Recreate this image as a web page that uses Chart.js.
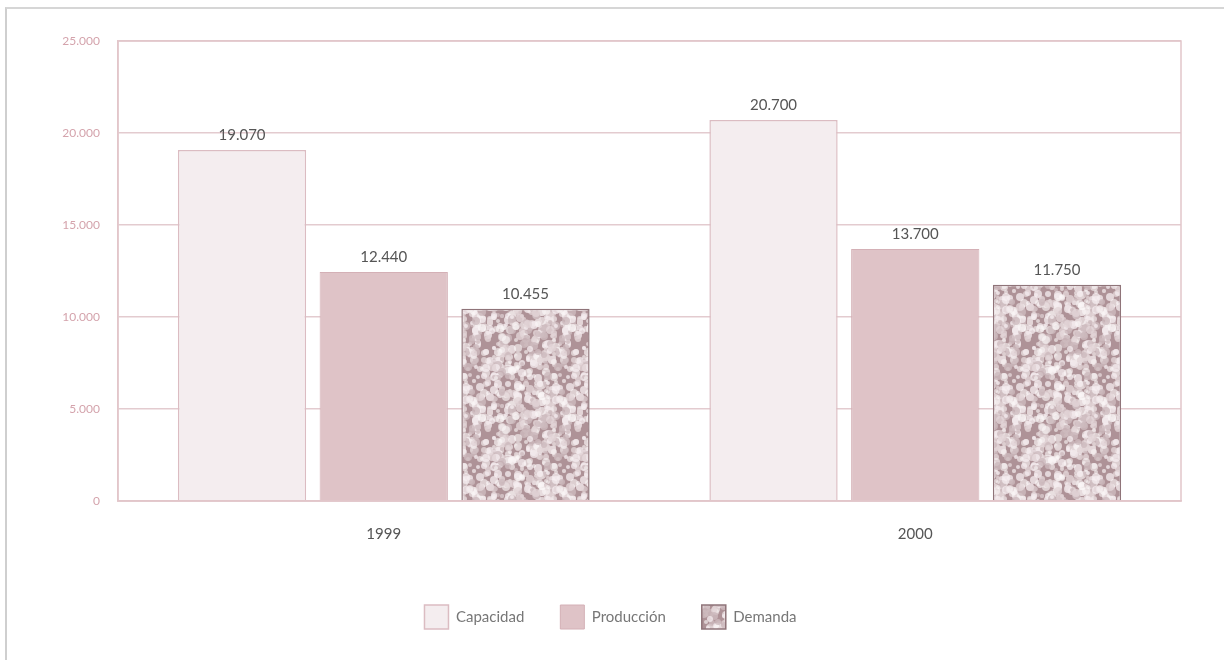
<!DOCTYPE html>
<html>
<head>
<meta charset="utf-8">
<script src="https://cdn.jsdelivr.net/npm/chart.js@4.4.0/dist/chart.umd.min.js"></script>
<style>
  body { margin: 0; background: #fff; }
  #wrap { position: relative; width: 1224px; height: 660px; }
  #frame { position: absolute; left: 5px; top: 7px; right: 0; bottom: 0; border-left: 2px solid #cfcfcf; border-top: 2px solid #d6d6d6; pointer-events: none; }
</style>
</head>
<body>
<div id="wrap">
  <canvas id="grafico" width="1224" height="660"></canvas>
  <div id="frame"></div>
</div>
<script>
// Datos del gráfico
const anios = ["1999", "2000"];
const capacidad = [19070, 20700];
const produccion = [12440, 13700];
const demanda = [10455, 11750];
const etiquetasY = ["0", "5.000", "10.000", "15.000", "20.000", "25.000"];

const fuente = "Lato, 'DejaVu Sans', sans-serif";

// Textura granulada para la serie Demanda (puntos claros sobre fondo gris rosado)
function crearTextura() {
    const t = 90;
    const c = document.createElement("canvas");
    c.width = t;
    c.height = t;
    const g = c.getContext("2d");
    g.fillStyle = "#ae9297";
    g.fillRect(0, 0, t, t);
    let s = 11;
    const colores = ["rgba(246,238,240,0.75)", "rgba(226,212,215,0.8)", "rgba(205,186,190,0.8)", "rgba(252,248,249,0.6)"];
    for (let i = 0; i < 420; i++) {
        s = (s * 1103515245 + 12345) % 2147483648;
        const x = s % t;
        const y = Math.floor(s / 97) % t;
        const r = 2 + (Math.floor(s / 13) % 3);
        g.fillStyle = colores[i % 4];
        // copias en los bordes para que el mosaico no tenga costuras
        for (const dx of [-t, 0, t]) {
            for (const dy of [-t, 0, t]) {
                g.beginPath();
                g.arc(x + dx, y + dy, r, 0, Math.PI * 2);
                g.fill();
            }
        }
    }
    return g.createPattern(c, "repeat");
}

// Números con punto de miles
function formatear(v) {
    return v.toString().replace(/\B(?=(\d{3})+(?!\d))/g, ".");
}

// Etiquetas de valor encima de cada barra
const etiquetasValor = {
    id: "etiquetasValor",
    afterDatasetsDraw(chart) {
        const ctx = chart.ctx;
        ctx.save();
        ctx.font = "15px " + fuente;
        ctx.fillStyle = "#555";
        ctx.textAlign = "center";
        ctx.textBaseline = "bottom";
        chart.data.datasets.forEach((ds, i) => {
            chart.getDatasetMeta(i).data.forEach((bar, j) => {
                ctx.fillText(formatear(ds.data[j]), bar.x, bar.y - 7);
            });
        });
        ctx.restore();
    }
};

const ctx = document.getElementById("grafico").getContext("2d");
const textura = crearTextura();

new Chart(ctx, {
    type: "bar",
    data: {
        labels: anios,
        datasets: [
            { label: "Capacidad", data: capacidad, backgroundColor: "#f4edef", borderColor: "#dbbcc2", borderWidth: 1.5 },
            { label: "Producción", data: produccion, backgroundColor: "#dfc3c7", borderColor: "#d4b0b6", borderWidth: 1 },
            { label: "Demanda", data: demanda, backgroundColor: textura, borderColor: "#8f7479", borderWidth: 1.5 }
        ]
    },
    options: {
        responsive: false,
        animation: false,
        categoryPercentage: 0.8,
        barPercentage: 0.905,
        layout: { padding: { left: 40, right: 43, top: 41, bottom: 21 } },
        plugins: {
            tooltip: { enabled: false },
            legend: {
                position: "bottom",
                labels: {
                    boxWidth: 24,
                    boxHeight: 24,
                    padding: 36,
                    color: "#777",
                    font: { family: fuente, size: 15 }
                }
            }
        },
        scales: {
            x: {
                grid: { display: false, drawTicks: false },
                border: { display: true, color: "#e2c6ca", width: 1.5 },
                ticks: { color: "#555", padding: 24, font: { family: fuente, size: 15 } },
                afterFit(scale) { scale.height = 68; }
            },
            y: {
                min: 0,
                max: 25000,
                ticks: {
                    stepSize: 5000,
                    color: "#d4a3ac",
                    padding: 18,
                    font: { family: fuente, size: 12 },
                    callback: (v, i) => etiquetasY[i]
                },
                grid: { color: "#e3cbcf", lineWidth: 1.5, drawTicks: false },
                border: { display: true, color: "#e2c6ca", width: 1.5 },
                afterFit(scale) { scale.width = 78; }
            }
        }
    },
    plugins: [etiquetasValor, {
        id: "marco",
        afterDraw(chart) {
            const a = chart.chartArea;
            const c = chart.ctx;
            c.save();
            c.strokeStyle = "#e2c6ca";
            c.lineWidth = 1.5;
            c.strokeRect(a.left, a.top, a.right - a.left, a.bottom - a.top);
            c.restore();
        }
    }]
});
</script>
</body>
</html>
